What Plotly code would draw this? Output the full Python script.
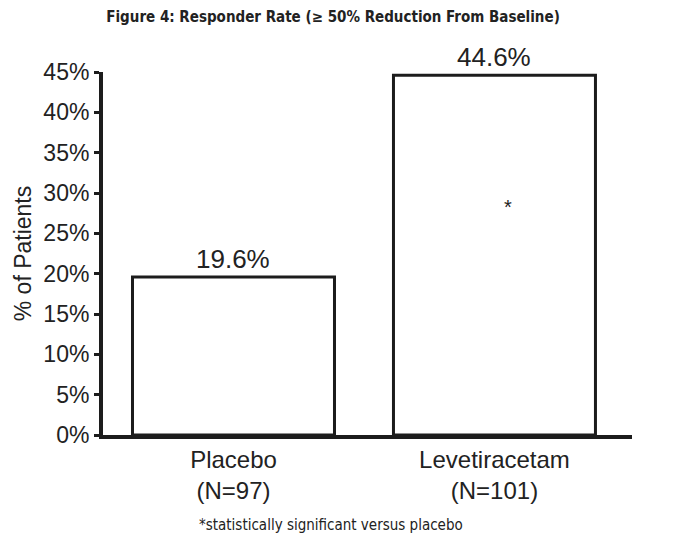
import plotly.graph_objects as go

categories = ["Placebo", "Levetiracetam"]
n_labels = ["(N=97)", "(N=101)"]
rates = [19.6, 44.6]
y_ticks = [0, 5, 10, 15, 20, 25, 30, 35, 40, 45]
y_tick_labels = [f"{v}%" for v in y_ticks]
significance_marker = "*"
significance_x = 1.05
significance_y = 28.3

INK = "#222222"
LINE = "#1c1c1c"
SANS = "Liberation Sans, Arial, sans-serif"
NARROW = "Liberation Sans Narrow, DejaVu Sans Condensed, sans-serif"

fig = go.Figure()
fig.add_trace(go.Bar(
    x=categories,
    y=rates,
    width=0.774,
    marker=dict(color="white", line=dict(color=LINE, width=3)),
    hoverinfo="skip",
))

for c, v in zip(categories, rates):
    fig.add_annotation(x=c, y=v, text=f"{v}%", showarrow=False,
                       yanchor="bottom", yshift=1,
                       font=dict(family=SANS, size=26, color=INK))

fig.add_annotation(x=significance_x, y=significance_y, text=significance_marker,
                   showarrow=False, font=dict(family=SANS, size=20, color=INK))

fig.update_layout(
    width=680, height=540,
    margin=dict(l=95, r=56, t=64, b=113),
    paper_bgcolor="white", plot_bgcolor="white",
    showlegend=False,
    title=dict(text="<b>Figure 4: Responder Rate (≥ 50% Reduction From Baseline)</b>",
               x=0.478, xanchor="center", y=0.983, yanchor="middle",
               font=dict(family=NARROW, size=15, color=INK)),
    xaxis=dict(
        type="category",
        range=[-0.5, 1.527],
        tickvals=categories,
        ticktext=[f"{c}<br>{n}" for c, n in zip(categories, n_labels)],
        showline=True, linecolor=LINE, linewidth=4,
        ticks="", showgrid=False, zeroline=False,
        tickfont=dict(family=SANS, size=24, color=INK),
    ),
    yaxis=dict(
        range=[0, 45],
        tickvals=y_ticks, ticktext=y_tick_labels,
        showline=True, linecolor=LINE, linewidth=4,
        ticks="outside", ticklen=5, tickwidth=3, tickcolor=LINE,
        showgrid=False, zeroline=False,
        tickfont=dict(family=SANS, size=23, color=INK),
        title=dict(text="% of Patients", font=dict(family=SANS, size=23, color=INK), standoff=6),
    ),
)

fig.add_annotation(xref="paper", yref="paper", x=0.431, y=-0.248, yanchor="middle",
                   text="*statistically significant versus placebo", showarrow=False,
                   font=dict(family=NARROW, size=15, color=INK))

fig.write_html("out.html")
